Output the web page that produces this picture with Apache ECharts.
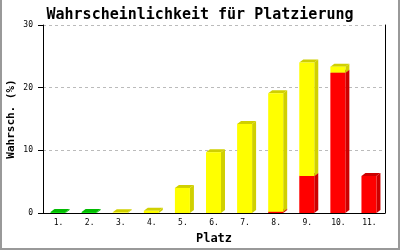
<!DOCTYPE html>
<html><head><meta charset="utf-8">
<script src="https://cdn.jsdelivr.net/npm/echarts@6/dist/echarts.min.js"></script>
<style>html,body{margin:0;padding:0;background:#fff}#c{width:400px;height:250px}</style>
</head><body><div id="c"></div>
<script>
const categories = ['1.','2.','3.','4.','5.','6.','7.','8.','9.','10.','11.'];
const redValues    = [0, 0, 0, 0, 0, 0, 0, 0.2, 5.9, 22.4, 5.9];
const yellowValues = [0, 0, 0.1, 0.35, 4.0, 9.7, 14.2, 18.9, 18.1, 0.95, 0];
const greenValues  = [0.15, 0.15, 0, 0, 0, 0, 0, 0, 0, 0, 0];
const yTicks = [0, 10, 20, 30];

const stackOrder = [
  {vals: redValues, front: '#ff0000', dark: '#cc0000'},
  {vals: yellowValues, front: '#ffff00', dark: '#d0d000'},
  {vals: greenValues, front: '#00dd00', dark: '#00bb00'}
];
const base = categories.map(() => 0);
const seriesList = stackOrder.map(s => {
  const data = [];
  s.vals.forEach((v, i) => {
    if (v > 0) { data.push([i, base[i], base[i] + v]); base[i] += v; }
  });
  return {
    type: 'custom',
    data: data,
    encode: {x: 0, y: 2},
    renderItem: function (params, api) {
      const p0 = api.coord([api.value(0), api.value(1)]);
      const p1 = api.coord([api.value(0), api.value(2)]);
      const cx = p0[0];
      const xl = cx - 8, xr = cx + 7;
      const yb = p0[1], yt = p1[1];
      const dx = 4, dy = 3;
      return {
        type: 'group',
        children: [
          {type: 'polygon', shape: {points: [[xr, yb], [xr + dx, yb - dy], [xr + dx, yt - dy], [xr, yt]]}, style: {fill: s.dark}},
          {type: 'polygon', shape: {points: [[xl, yt], [xr, yt], [xr + dx, yt - dy], [xl + dx, yt - dy]]}, style: {fill: s.dark}},
          {type: 'rect', shape: {x: xl, y: yt, width: xr - xl, height: yb - yt}, style: {fill: s.front}}
        ]
      };
    }
  };
});

const mono = 'DejaVu Sans Mono';
const chart = echarts.init(document.getElementById('c'), null, {renderer: 'canvas'});
chart.setOption({
  animation: false,
  title: {text: 'Wahrscheinlichkeit für Platzierung', left: 'center', top: 3,
    textStyle: {fontFamily: mono, fontWeight: 'bold', fontSize: 15, color: '#000'}},
  grid: {left: 43, right: 15, top: 25, bottom: 37, outerBoundsMode: 'none', containLabel: false},
  xAxis: {type: 'category', data: categories,
    name: 'Platz', nameLocation: 'middle', nameGap: 20, nameMoveOverlap: false,
    nameTextStyle: {fontFamily: mono, fontWeight: 'bold', fontSize: 12, color: '#000'},
    axisLine: {lineStyle: {color: '#000', width: 1}}, axisTick: {show: false},
    axisLabel: {fontFamily: mono, fontSize: 8, color: '#000', margin: 6}},
  yAxis: [{type: 'value', min: yTicks[0], max: yTicks[yTicks.length - 1], interval: 10,
    name: 'Wahrsch. (%)', nameLocation: 'middle', nameRotate: 90, nameGap: 26, nameMoveOverlap: false,
    nameTextStyle: {fontFamily: mono, fontWeight: 'bold', fontSize: 11, color: '#000'},
    axisLine: {show: true, lineStyle: {color: '#000', width: 1}},
    axisTick: {show: true, length: 5, lineStyle: {color: '#000'}},
    axisLabel: {fontFamily: mono, fontSize: 8, color: '#000', margin: 10},
    splitLine: {lineStyle: {color: '#bbb', type: [3, 3]}}},
    {type: 'value', min: 0, max: 30, position: 'right', axisLine: {show: true, lineStyle: {color: '#000'}},
     axisTick: {show: false}, axisLabel: {show: false}, splitLine: {show: false}}],
  graphic: [
    {type: 'line', shape: {x1: 1, y1: 0, x2: 1, y2: 249}, style: {stroke: '#999', lineWidth: 2}},
    {type: 'line', shape: {x1: 399, y1: 0, x2: 399, y2: 249}, style: {stroke: '#999', lineWidth: 2}},
    {type: 'line', shape: {x1: 0, y1: 249, x2: 400, y2: 249}, style: {stroke: '#999', lineWidth: 2}}
  ],
  series: seriesList
});
</script></body></html>
